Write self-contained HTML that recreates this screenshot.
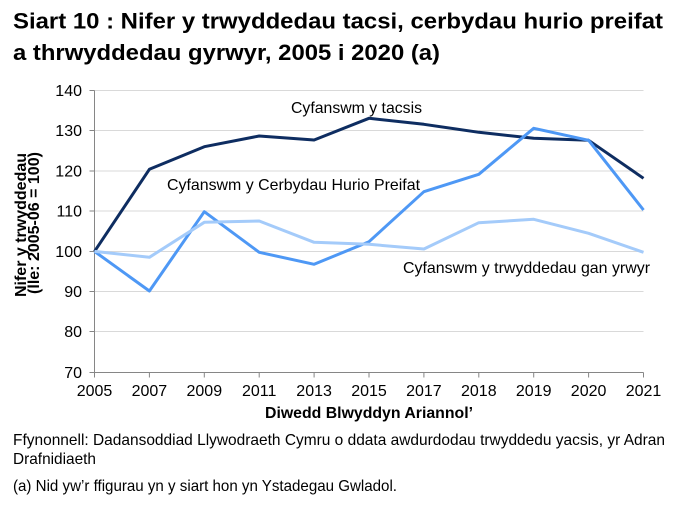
<!DOCTYPE html>
<html><head><meta charset="utf-8"><style>
html,body{margin:0;padding:0;background:#fff;}
svg{display:block;}
text{font-family:"Liberation Sans",Arial,sans-serif;fill:#000;}
</style></head><body>
<svg width="681" height="508" viewBox="0 0 681 508" xmlns="http://www.w3.org/2000/svg">
<rect width="681" height="508" fill="#fff"/>
<!-- Title -->
<text x="13" y="28.5" font-size="22" font-weight="bold" fill="#1a1a1a" textLength="650" lengthAdjust="spacingAndGlyphs">Siart 10 : Nifer y trwyddedau tacsi, cerbydau hurio preifat</text>
<text x="13" y="60" font-size="22" font-weight="bold" fill="#1a1a1a" textLength="427" lengthAdjust="spacingAndGlyphs">a thrwyddedau gyrwyr, 2005 i 2020 (a)</text>
<!-- gridlines -->
<g stroke="#d9d9d9" stroke-width="1">
<line x1="94.5" y1="90.5" x2="643.5" y2="90.5"/>
<line x1="94.5" y1="130.5" x2="643.5" y2="130.5"/>
<line x1="94.5" y1="171" x2="643.5" y2="171"/>
<line x1="94.5" y1="211" x2="643.5" y2="211"/>
<line x1="94.5" y1="251.5" x2="643.5" y2="251.5"/>
<line x1="94.5" y1="291.5" x2="643.5" y2="291.5"/>
<line x1="94.5" y1="331.5" x2="643.5" y2="331.5"/>
</g>
<!-- axes -->
<g stroke="#868686" stroke-width="1">
<line x1="94.5" y1="90.5" x2="94.5" y2="372.5"/>
<line x1="94.5" y1="372.5" x2="643.5" y2="372.5"/>
<line x1="89.5" y1="90.5" x2="94.5" y2="90.5"/>
<line x1="89.5" y1="130.5" x2="94.5" y2="130.5"/>
<line x1="89.5" y1="171" x2="94.5" y2="171"/>
<line x1="89.5" y1="211" x2="94.5" y2="211"/>
<line x1="89.5" y1="251.5" x2="94.5" y2="251.5"/>
<line x1="89.5" y1="291.5" x2="94.5" y2="291.5"/>
<line x1="89.5" y1="331.5" x2="94.5" y2="331.5"/>
<line x1="89.5" y1="372.5" x2="94.5" y2="372.5"/>
<line x1="94.5" y1="372.5" x2="94.5" y2="377.5"/>
<line x1="149.4" y1="372.5" x2="149.4" y2="377.5"/>
<line x1="204.3" y1="372.5" x2="204.3" y2="377.5"/>
<line x1="259.2" y1="372.5" x2="259.2" y2="377.5"/>
<line x1="314.1" y1="372.5" x2="314.1" y2="377.5"/>
<line x1="369" y1="372.5" x2="369" y2="377.5"/>
<line x1="423.9" y1="372.5" x2="423.9" y2="377.5"/>
<line x1="478.8" y1="372.5" x2="478.8" y2="377.5"/>
<line x1="533.7" y1="372.5" x2="533.7" y2="377.5"/>
<line x1="588.6" y1="372.5" x2="588.6" y2="377.5"/>
<line x1="643.5" y1="372.5" x2="643.5" y2="377.5"/>
</g>
<!-- y labels -->
<g font-size="16" text-anchor="end">
<text x="82" y="96">140</text>
<text x="82" y="136">130</text>
<text x="82" y="176.5">120</text>
<text x="82" y="216.5">110</text>
<text x="82" y="257">100</text>
<text x="82" y="297">90</text>
<text x="82" y="337">80</text>
<text x="82" y="378">70</text>
</g>
<!-- x labels -->
<g font-size="16" text-anchor="middle">
<text x="94.5" y="396">2005</text>
<text x="149.4" y="396">2007</text>
<text x="204.3" y="396">2009</text>
<text x="259.2" y="396">2011</text>
<text x="314.1" y="396">2013</text>
<text x="369" y="396">2015</text>
<text x="423.9" y="396">2017</text>
<text x="478.8" y="396">2018</text>
<text x="533.7" y="396">2019</text>
<text x="588.6" y="396">2020</text>
<text x="643.5" y="396">2021</text>
</g>
<!-- axis titles -->
<text x="369" y="418" font-size="16" font-weight="bold" text-anchor="middle" textLength="208" lengthAdjust="spacingAndGlyphs">Diwedd Blwyddyn Ariannol’</text>
<g transform="translate(26,225) rotate(-90)">
<text x="0" y="0" font-size="16" font-weight="bold" text-anchor="middle">Nifer y trwyddedau</text>
<text x="2" y="13" font-size="16" font-weight="bold" text-anchor="middle">(lle: 2005-06 = 100)</text>
</g>
<!-- series -->
<polyline fill="none" stroke="#0e2d61" stroke-width="3" stroke-linejoin="round" points="94.5,251.4 149.4,169.3 204.3,146.7 259.2,136 314.1,140 369,118.3 423.9,124.3 478.8,132.3 533.7,138.3 588.6,140.3 643.5,178.3"/>
<polyline fill="none" stroke="#4e98f5" stroke-width="3" stroke-linejoin="round" points="94.5,251.4 149.4,291 204.3,211.7 259.2,252.3 314.1,264.3 369,241.7 423.9,191.7 478.8,174.3 533.7,128.3 588.6,140.3 643.5,210"/>
<polyline fill="none" stroke="#a4cbfa" stroke-width="3" stroke-linejoin="round" points="94.5,251.4 149.4,257.3 204.3,222.3 259.2,221 314.1,242.3 369,244.3 423.9,249 478.8,222.7 533.7,219.3 588.6,233.3 643.5,252.3"/>
<!-- series labels -->
<text x="291" y="113" font-size="16" textLength="131" lengthAdjust="spacingAndGlyphs">Cyfanswm y tacsis</text>
<text x="167" y="190" font-size="16" textLength="253" lengthAdjust="spacingAndGlyphs">Cyfanswm y Cerbydau Hurio Preifat</text>
<text x="403" y="273" font-size="16" textLength="247" lengthAdjust="spacingAndGlyphs">Cyfanswm y trwyddedau gan yrwyr</text>
<!-- footer -->
<text x="13" y="445" font-size="16" fill="#1a1a1a" textLength="652" lengthAdjust="spacingAndGlyphs">Ffynonnell: Dadansoddiad Llywodraeth Cymru o ddata awdurdodau trwyddedu yacsis, yr Adran</text>
<text x="13" y="464" font-size="16" fill="#1a1a1a" textLength="83" lengthAdjust="spacingAndGlyphs">Drafnidiaeth</text>
<text x="13" y="491" font-size="16" fill="#1a1a1a" textLength="384" lengthAdjust="spacingAndGlyphs">(a) Nid yw’r ffigurau yn y siart hon yn Ystadegau Gwladol.</text>
</svg>
</body></html>
